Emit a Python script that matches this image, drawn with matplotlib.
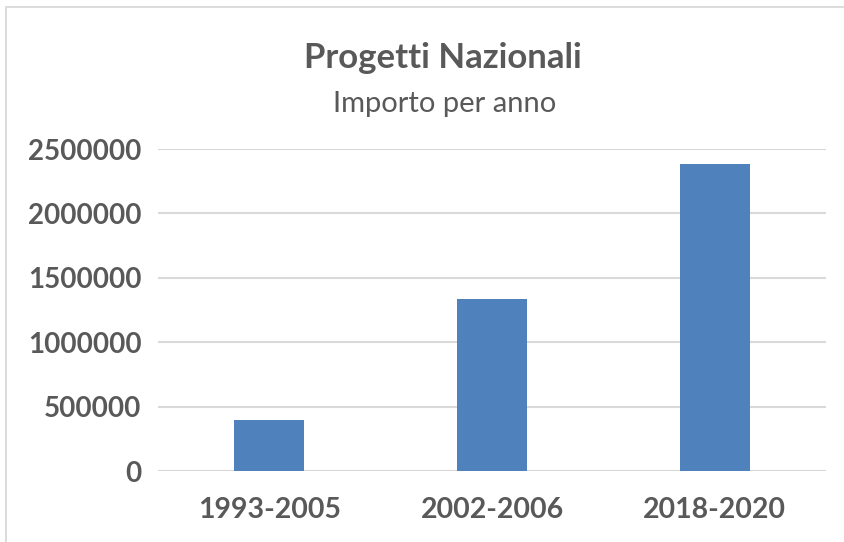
import matplotlib
matplotlib.use("Agg")
import matplotlib.pyplot as plt
from matplotlib.patches import Rectangle

categories = ["1993-2005", "2002-2006", "2018-2020"]
values = [395000, 1333000, 2385000]
yticks = [0, 500000, 1000000, 1500000, 2000000, 2500000]
title = "Progetti Nazionali"
subtitle = "Importo per anno"

W, H = 844, 542
fig = plt.figure(figsize=(W/100, H/100), dpi=100)
fig.patch.set_facecolor("white")
txt = "#595959"
grid = "#d9d9d9"
font = "Lato"

# chart frame (extends beyond image on right and bottom)
fig.add_artist(Rectangle((6/W, -0.1), 1.2, 1 - 7/H + 0.1, transform=fig.transFigure,
                         fill=False, edgecolor=grid, linewidth=1.3))

ax = fig.add_axes([158/W, 1 - 471/H, (826-158)/W, (471-149)/H])
x = list(range(len(categories)))
ax.bar(x, values, width=0.315, color="#4f81bd", zorder=3)
ax.set_xlim(-0.5, 2.5)
ax.set_ylim(0, 2500000)
ax.set_yticks(yticks)
ax.set_yticklabels([str(v) for v in yticks], fontfamily=font, fontweight="bold",
                   fontsize=20, color=txt)
ax.set_xticks(x)
ax.set_xticklabels(categories, fontfamily=font, fontweight="bold", fontsize=20.5, color=txt)
ax.tick_params(axis="both", length=0)
ax.tick_params(axis="y", pad=12)
ax.tick_params(axis="x", pad=19)
for s in ax.spines.values():
    s.set_visible(False)
ax.yaxis.grid(True, color=grid, linewidth=1.5, zorder=0)
ax.set_axisbelow(True)
ax.set_facecolor("none")

fig.text(443/W, 1 - 58/H, title, ha="center", va="center", fontfamily=font,
         fontweight="bold", fontsize=25, color=txt)
fig.text(445/W, 1 - 104/H, subtitle, ha="center", va="center", fontfamily=font,
         fontsize=21, color=txt)

fig.savefig("out.png", dpi=100)
